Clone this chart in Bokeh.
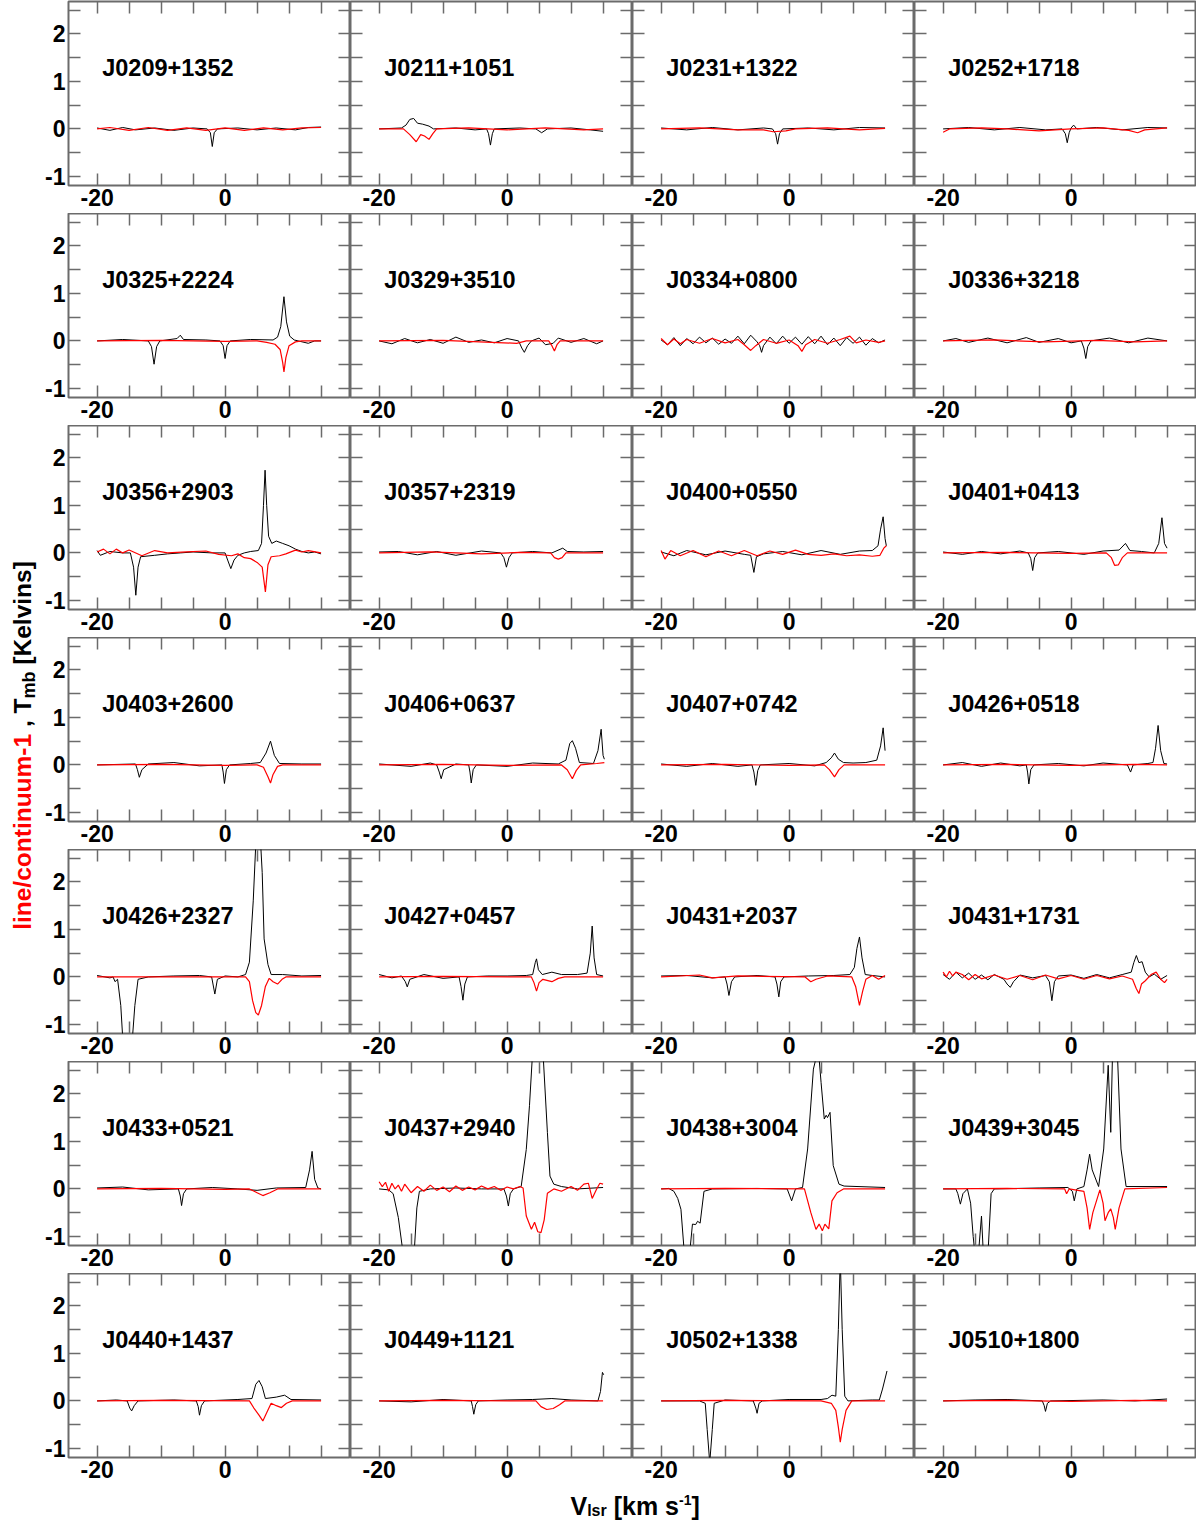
import math
from bokeh.plotting import figure
from bokeh.models import Range1d, LinearAxis, FixedTicker, Label
from bokeh.layouts import gridplot, row, column
from bokeh.embed import file_html
from bokeh.resources import INLINE

# ---------------- data (velocity km/s, value) ----------------
X_TICKS = [-20, -15, -10, -5, 0, 5, 10, 15]
X_TICK_LABELS = {-20: "-20", 0: "0"}
Y_TICKS = [-1, -0.5, 0, 0.5, 1, 1.5, 2, 2.5]
Y_TICK_LABELS = {-1: "-1", 0: "0", 1: "1", 2: "2"}

B_J0209_1352 = [(-20, 0.02), (-18, -0.03), (-16, 0.03), (-14, -0.02), (-11, 0.02), (-8, -0.03), (-5, 0.02), (-2.8, 0.0), (-2.3, -0.08), (-2.0, -0.37), (-1.7, -0.08), (-1.2, 0.0), (2, 0.02), (5, -0.02), (8, 0.02), (11, -0.02), (13, 0.03), (15, 0.04)]
R_J0209_1352 = [(-20, 0.0), (-18, 0.03), (-15, -0.03), (-12, 0.03), (-9, -0.03), (-6, 0.02), (-3, -0.03), (0, 0.02), (3, -0.03), (6, 0.02), (9, -0.02), (12, 0.02), (15, 0.03)]

B_J0211_1051 = [(-20, 0.0), (-16.5, 0.02), (-15.8, 0.08), (-15.2, 0.2), (-14.6, 0.22), (-14.0, 0.12), (-13.2, 0.1), (-12.2, 0.06), (-11.5, 0.0), (-8, 0.02), (-5, -0.02), (-3.2, 0.0), (-2.9, -0.1), (-2.6, -0.34), (-2.3, -0.1), (-2.0, 0.0), (2, 0.02), (4.5, 0.0), (5.4, -0.08), (6.3, 0.0), (10, 0.02), (13, -0.02), (15, -0.05)]
R_J0211_1051 = [(-20, 0.0), (-16.2, 0.0), (-15.2, -0.12), (-14.2, -0.27), (-13.5, -0.12), (-12.9, -0.15), (-12.2, -0.22), (-11.6, -0.1), (-11.0, 0.0), (-6, 0.02), (0, -0.02), (6, 0.02), (12, -0.02), (15, 0.0)]

B_J0231_1322 = [(-20, 0.02), (-16, -0.02), (-12, 0.03), (-8, -0.02), (-4, 0.02), (-2.6, 0.0), (-2.1, -0.1), (-1.8, -0.32), (-1.5, -0.1), (-1.0, 0.0), (3, 0.02), (7, -0.02), (11, 0.03), (15, 0.02)]
R_J0231_1322 = [(-20, 0.0), (-14, 0.02), (-8, -0.02), (-4, -0.02), (-2.5, -0.06), (-0.5, -0.04), (1, 0.0), (6, 0.02), (11, -0.02), (15, 0.01)]

B_J0252_1718 = [(-20, 0.0), (-16, 0.03), (-12, -0.02), (-8, 0.03), (-4, -0.02), (-1.4, 0.0), (-0.9, -0.1), (-0.6, -0.29), (-0.3, -0.08), (0.0, 0.02), (0.4, 0.08), (0.9, 0.0), (4, 0.03), (8, -0.02), (12, 0.03), (15, 0.02)]
R_J0252_1718 = [(-20, -0.07), (-19, 0.0), (-14, 0.02), (-10, 0.0), (-5, -0.04), (0, 0.0), (5, 0.02), (9, -0.03), (10.4, -0.08), (11.5, -0.02), (15, 0.02)]

B_J0325_2224 = [(-20, 0.0), (-16, 0.03), (-12, 0.0), (-11.5, -0.12), (-11.1, -0.49), (-10.7, -0.12), (-10.2, 0.0), (-7.5, 0.05), (-7.0, 0.12), (-6.5, 0.03), (-3, 0.02), (-0.8, 0.0), (-0.3, -0.1), (0.0, -0.37), (0.3, -0.1), (0.8, 0.0), (4, 0.03), (7.5, 0.02), (8.2, 0.08), (8.7, 0.3), (9.2, 0.93), (9.6, 0.4), (10.1, 0.1), (10.8, 0.02), (13, -0.05), (14, 0.0), (15, 0.0)]
R_J0325_2224 = [(-20, 0.0), (-10, 0.01), (0, -0.01), (5, 0.0), (6.5, -0.03), (7.8, -0.07), (8.6, -0.18), (9.0, -0.45), (9.2, -0.65), (9.5, -0.35), (10.0, -0.1), (11, -0.02), (12, 0.0), (15, 0.0)]

B_J0329_3510 = [(-20, 0.0), (-18, -0.06), (-16, 0.05), (-14, -0.04), (-12, 0.03), (-10, -0.05), (-8, 0.08), (-6, -0.03), (-4, 0.02), (-2, -0.04), (0, 0.05), (1.8, 0.0), (2.3, -0.15), (2.7, -0.24), (3.2, -0.1), (3.8, 0.0), (5, 0.06), (6, -0.08), (7.2, -0.05), (8, 0.06), (10, -0.03), (12, 0.05), (14, -0.06), (15, 0.0)]
R_J0329_3510 = [(-20, 0.0), (-10, 0.01), (1.5, -0.05), (3, 0.0), (6.5, 0.0), (7.0, -0.1), (7.4, -0.21), (7.8, -0.08), (8.3, 0.0), (15, 0.0)]

B_J0334_0800 = [(-20, 0.02), (-19, -0.08), (-18, 0.07), (-17, -0.1), (-16, 0.05), (-15, -0.06), (-14, 0.08), (-13, -0.04), (-12, 0.06), (-11, -0.07), (-10, 0.04), (-9, -0.05), (-8, 0.1), (-7, -0.06), (-6, 0.12), (-5, -0.02), (-4.6, -0.1), (-4.3, -0.24), (-4.0, -0.1), (-3, 0.08), (-2, -0.06), (-1, 0.1), (0, -0.05), (1, 0.08), (2, -0.07), (3, 0.09), (4, -0.06), (5, 0.1), (6, -0.08), (7, 0.06), (8, -0.1), (9, 0.07), (10, -0.05), (11, 0.08), (12, -0.09), (13, 0.05), (14, -0.04), (15, 0.02)]
R_J0334_0800 = [(-20, 0.05), (-19, -0.08), (-18, 0.04), (-17, -0.06), (-16, 0.03), (-14, -0.05), (-12, 0.05), (-10, -0.04), (-8, 0.03), (-7, -0.08), (-6.0, -0.2), (-5.2, -0.1), (-4, 0.03), (-2, -0.05), (0, 0.02), (1.4, -0.1), (2.0, -0.22), (2.6, -0.08), (4, 0.03), (6, -0.05), (8, 0.03), (9.5, 0.1), (10.5, -0.04), (12, 0.02), (14, -0.03), (15, 0.0)]

B_J0336_3218 = [(-20, 0.0), (-18, 0.05), (-16, -0.03), (-13, 0.06), (-10, -0.04), (-7, 0.07), (-5, -0.03), (-2, 0.05), (0, -0.04), (1.6, 0.0), (2.0, -0.15), (2.3, -0.37), (2.6, -0.12), (3.1, 0.0), (6, 0.06), (9, -0.04), (12, 0.06), (15, 0.0)]
R_J0336_3218 = [(-20, 0.0), (-12, 0.02), (-4, -0.02), (4, 0.01), (10, -0.02), (15, 0.0)]

B_J0356_2903 = [(-20, 0.05), (-19.5, -0.05), (-18, 0.03), (-16, 0.0), (-14.8, 0.0), (-14.3, -0.3), (-13.95, -0.89), (-13.6, -0.3), (-13.2, -0.08), (-11, -0.05), (-9, -0.02), (-7, 0.0), (-5, 0.02), (-2, 0.0), (0, 0.0), (0.4, -0.15), (0.9, -0.33), (1.4, -0.15), (2, -0.05), (3, 0.0), (4, 0.03), (5.2, 0.05), (5.7, 0.2), (6.0, 1.0), (6.25, 1.74), (6.5, 1.0), (6.8, 0.35), (7.3, 0.2), (8, 0.25), (9, 0.2), (10, 0.15), (11, 0.08), (12, 0.03), (13, 0.0), (14, 0.02), (15, -0.02)]
R_J0356_2903 = [(-20, 0.02), (-19, 0.08), (-18, -0.02), (-17, 0.08), (-16, 0.0), (-15, 0.06), (-13, -0.06), (-11, 0.05), (-9, 0.0), (-6, 0.02), (-3, 0.04), (-1, -0.03), (1, -0.06), (2, -0.02), (3, -0.1), (4, -0.12), (5, -0.2), (5.8, -0.3), (6.3, -0.82), (6.7, -0.25), (7.2, -0.08), (8.5, -0.06), (9.5, -0.02), (11, 0.06), (12, 0.02), (13, 0.05), (15, 0.0)]

B_J0357_2319 = [(-20, 0.02), (-17, 0.03), (-14, -0.04), (-11, 0.03), (-8, -0.05), (-4, 0.04), (-1, 0.0), (-0.5, -0.1), (-0.1, -0.3), (0.3, -0.1), (0.8, 0.0), (4, 0.03), (7, 0.0), (8.7, 0.1), (9.4, 0.03), (12, 0.02), (15, 0.03)]
R_J0357_2319 = [(-20, 0.0), (-12, 0.02), (-4, -0.02), (2, 0.01), (6.8, 0.0), (7.4, -0.1), (8.0, -0.13), (8.6, -0.1), (9.2, 0.0), (15, 0.0)]

B_J0400_0550 = [(-20, 0.02), (-18, -0.06), (-16, 0.05), (-13, -0.04), (-10, 0.04), (-7, -0.03), (-6, -0.05), (-5.5, -0.41), (-5.1, -0.08), (-4, -0.02), (-1, 0.03), (2, -0.04), (5, 0.05), (8, -0.03), (11, 0.04), (13, 0.05), (13.9, 0.15), (14.3, 0.5), (14.7, 0.76), (15.0, 0.3), (15.2, 0.15)]
R_J0400_0550 = [(-20, 0.05), (-19.4, -0.13), (-18.5, 0.05), (-17, -0.06), (-15, 0.05), (-13, -0.08), (-11, 0.04), (-9, -0.06), (-7, 0.05), (-5, -0.06), (-3, 0.04), (-1, -0.03), (1, 0.06), (3, -0.03), (5, -0.05), (7, -0.02), (9, -0.06), (11, -0.04), (13, -0.07), (14.2, -0.05), (14.8, 0.1), (15.2, 0.15)]

B_J0401_0413 = [(-20, 0.02), (-17, -0.03), (-14, 0.03), (-11, -0.02), (-8, 0.04), (-6.7, 0.0), (-6.3, -0.12), (-6.0, -0.37), (-5.7, -0.1), (-5.2, 0.0), (-2, 0.03), (2, -0.03), (5, 0.04), (7.5, 0.06), (8.5, 0.2), (9.2, 0.05), (11, 0.03), (13, 0.0), (13.7, 0.2), (14.2, 0.74), (14.6, 0.2), (15, 0.1)]
R_J0401_0413 = [(-20, 0.0), (-10, 0.01), (0, -0.01), (5.5, 0.0), (6.3, -0.1), (6.8, -0.26), (7.4, -0.25), (8.0, -0.1), (8.8, 0.0), (15, 0.0)]

B_J0403_2600 = [(-20, 0.0), (-14, 0.02), (-13.7, -0.1), (-13.4, -0.26), (-13.0, -0.1), (-12, 0.02), (-8, 0.05), (-4, -0.02), (-0.5, 0.0), (-0.3, -0.15), (-0.1, -0.39), (0.2, -0.1), (0.7, 0.0), (4, 0.03), (5.5, 0.05), (6.4, 0.25), (7.1, 0.5), (7.7, 0.2), (8.5, 0.03), (12, 0.02), (15, 0.02)]
R_J0403_2600 = [(-20, 0.0), (-10, 0.01), (0, -0.01), (5, 0.0), (6, -0.05), (6.7, -0.25), (7.1, -0.38), (7.5, -0.2), (8.2, -0.03), (9, 0.0), (15, 0.0)]

B_J0406_0637 = [(-20, 0.02), (-15, -0.03), (-12, 0.04), (-11, 0.0), (-10.6, -0.15), (-10.3, -0.29), (-9.9, -0.1), (-8, 0.02), (-6.0, 0.0), (-5.8, -0.15), (-5.6, -0.38), (-5.3, -0.1), (-4.8, 0.0), (0, -0.03), (4, 0.04), (8, 0.02), (9.2, 0.1), (9.8, 0.45), (10.2, 0.51), (10.7, 0.35), (11.3, 0.05), (13.5, 0.03), (14.2, 0.3), (14.7, 0.75), (15.0, 0.2), (15.2, 0.12)]
R_J0406_0637 = [(-20, 0.0), (-10, 0.01), (0, -0.01), (8.5, 0.0), (9.4, -0.1), (10.2, -0.29), (10.8, -0.12), (11.5, 0.0), (14, 0.03), (15.2, 0.05)]

B_J0407_0742 = [(-20, 0.02), (-16, -0.03), (-12, 0.03), (-8, -0.03), (-5.8, 0.0), (-5.5, -0.15), (-5.2, -0.43), (-4.9, -0.12), (-4.5, 0.0), (0, 0.03), (4, -0.02), (5.8, 0.05), (6.6, 0.15), (7.1, 0.25), (7.7, 0.12), (8.5, 0.05), (10, 0.04), (12, 0.05), (13.7, 0.1), (14.3, 0.4), (14.7, 0.78), (15.0, 0.3)]
R_J0407_0742 = [(-20, 0.0), (-10, 0.01), (0, -0.01), (5.5, 0.0), (6.3, -0.1), (7.1, -0.25), (7.8, -0.1), (8.6, 0.0), (15, 0.0)]

B_J0426_0518 = [(-20, 0.0), (-17, 0.05), (-14, -0.03), (-11, 0.04), (-8, -0.02), (-7.0, 0.0), (-6.8, -0.15), (-6.6, -0.4), (-6.3, -0.1), (-5.8, 0.0), (-2, 0.03), (2, -0.02), (5, 0.04), (8.8, 0.0), (9.3, -0.15), (9.7, 0.0), (12, 0.03), (12.8, 0.05), (13.2, 0.35), (13.6, 0.83), (14.0, 0.3), (14.5, 0.03), (15, 0.02)]
R_J0426_0518 = [(-20, 0.0), (-10, 0.01), (0, -0.01), (10, 0.01), (15, 0.0)]

B_J0426_2327 = [(-20, 0.03), (-18, -0.02), (-17.5, 0.0), (-17.2, -0.1), (-16.8, -0.05), (-16.3, -0.6), (-15.9, -1.5), (-15.2, -1.6), (-14.6, -1.5), (-14.1, -0.6), (-13.6, -0.05), (-12, 0.0), (-8, 0.02), (-4, 0.03), (-2.1, 0.0), (-1.6, -0.36), (-1.2, -0.05), (0, 0.02), (2, 0.0), (3.2, 0.05), (3.8, 0.31), (4.4, 1.6), (4.9, 3.1), (5.4, 3.2), (5.8, 2.2), (6.1, 0.8), (6.7, 0.26), (7.2, 0.05), (9, 0.05), (12, 0.02), (15, 0.03)]
R_J0426_2327 = [(-20, 0.0), (3.2, 0.0), (3.8, -0.1), (4.3, -0.5), (4.8, -0.75), (5.2, -0.8), (5.7, -0.6), (6.3, -0.2), (6.9, -0.03), (7.5, -0.1), (8.2, -0.15), (8.9, -0.05), (9.5, 0.0), (15, 0.0)]

B_J0427_0457 = [(-20, 0.05), (-18, -0.02), (-16.5, 0.02), (-15.9, -0.1), (-15.6, -0.21), (-15.2, -0.05), (-13, 0.05), (-10, -0.03), (-7.5, 0.0), (-7.2, -0.2), (-6.9, -0.49), (-6.6, -0.15), (-6.2, 0.0), (-3, 0.02), (0, 0.02), (3, 0.03), (4.0, 0.05), (4.4, 0.3), (4.6, 0.38), (4.9, 0.15), (5.5, 0.05), (7, 0.1), (8.5, 0.05), (11, 0.05), (12.5, 0.08), (13.0, 0.5), (13.3, 1.07), (13.6, 0.4), (14, 0.05), (15, 0.02)]
R_J0427_0457 = [(-20, 0.0), (-10, 0.01), (3.8, 0.0), (4.2, -0.12), (4.6, -0.3), (5.0, -0.12), (5.6, -0.05), (7.0, -0.1), (8, -0.03), (9, 0.0), (15, 0.0)]

B_J0431_2037 = [(-20, 0.02), (-16, 0.03), (-12, -0.02), (-10.0, 0.0), (-9.7, -0.15), (-9.4, -0.39), (-9.0, -0.1), (-8.5, 0.0), (-5, 0.03), (-2.2, 0.0), (-1.9, -0.15), (-1.6, -0.42), (-1.3, -0.1), (-0.8, 0.0), (3, 0.02), (7, 0.03), (9.5, 0.05), (10.2, 0.2), (10.6, 0.6), (11.0, 0.84), (11.4, 0.4), (11.9, 0.05), (13, 0.03), (15, 0.0)]
R_J0431_2037 = [(-20, 0.0), (-14, 0.04), (-12, -0.02), (-8, 0.02), (2.5, 0.0), (3.4, -0.1), (4.2, -0.05), (6, 0.02), (9.8, 0.0), (10.4, -0.2), (11.0, -0.6), (11.5, -0.3), (12.0, -0.05), (13, 0.03), (14, -0.05), (15, 0.03)]

B_J0431_1731 = [(-20, 0.05), (-19, -0.05), (-18, 0.1), (-17, -0.02), (-16, 0.08), (-15, -0.05), (-14, 0.04), (-13, -0.06), (-12, 0.05), (-10.5, -0.05), (-10.0, -0.15), (-9.5, -0.22), (-9.0, -0.1), (-8, 0.04), (-6, -0.02), (-4, 0.03), (-3.4, -0.1), (-3.0, -0.5), (-2.6, -0.1), (-2, 0.02), (0, 0.04), (2, -0.03), (4, 0.05), (6, -0.02), (8, 0.05), (9.4, 0.1), (9.8, 0.3), (10.2, 0.45), (10.6, 0.3), (11.1, 0.32), (11.6, 0.1), (12.2, 0.0), (13, 0.06), (14, -0.05), (15, 0.03)]
R_J0431_1731 = [(-20, 0.1), (-19.5, 0.0), (-19, 0.12), (-18.5, 0.02), (-18, 0.1), (-17, 0.05), (-16, -0.06), (-15, 0.05), (-14, -0.04), (-12, 0.04), (-10, -0.05), (-8, 0.03), (-6, -0.06), (-4, 0.04), (-2, -0.04), (0, 0.03), (2, -0.05), (4, 0.03), (6, -0.04), (8, 0.02), (9.6, -0.05), (10.2, -0.25), (10.6, -0.35), (11.0, -0.15), (11.6, -0.08), (12.5, 0.05), (13.3, 0.1), (14, -0.05), (14.6, -0.12), (15, -0.05)]

B_J0433_0521 = [(-20, 0.02), (-16, 0.04), (-12, -0.02), (-7.3, 0.0), (-7.0, -0.15), (-6.8, -0.35), (-6.5, -0.1), (-6, 0.0), (-2, 0.03), (2, 0.0), (5, -0.03), (8, 0.02), (12.6, 0.03), (13.2, 0.4), (13.6, 0.79), (14.0, 0.2), (14.5, 0.02), (15, 0.0)]
R_J0433_0521 = [(-20, 0.0), (-10, 0.01), (0, -0.01), (3.8, 0.0), (5.0, -0.08), (5.9, -0.14), (7.0, -0.08), (8.2, 0.0), (15, 0.0)]

B_J0437_2940 = [(-20, 0.0), (-18.5, -0.02), (-17.8, -0.1), (-17.0, -0.6), (-16.3, -1.3), (-15.4, -1.5), (-14.5, -1.3), (-14.1, -0.4), (-13.7, -0.05), (-12, 0.0), (-8, 0.02), (-4, 0.0), (-0.5, 0.0), (-0.1, -0.15), (0.2, -0.36), (0.5, -0.1), (1, 0.0), (2.2, 0.05), (3.0, 0.83), (3.5, 1.75), (4.0, 2.9), (4.8, 3.2), (5.6, 2.9), (6.3, 1.19), (6.7, 0.27), (7.3, 0.1), (8.5, 0.05), (11, 0.0), (15, 0.03)]
R_J0437_2940 = [(-20, 0.15), (-19.5, 0.05), (-19, 0.14), (-18.5, -0.05), (-18, 0.12), (-17.5, 0.0), (-17, 0.08), (-16.5, -0.05), (-16, 0.1), (-15, -0.08), (-14, 0.05), (-13, -0.05), (-12, 0.08), (-11, -0.03), (-10, 0.04), (-9, -0.06), (-8, 0.06), (-7, -0.03), (-6, 0.04), (-5, -0.02), (-4, 0.06), (-3, 0.0), (-2, 0.05), (-1, -0.03), (0, 0.04), (1, 0.0), (2, 0.05), (2.5, 0.02), (3.0, -0.57), (3.8, -0.85), (4.3, -0.7), (4.8, -0.9), (5.3, -0.92), (5.8, -0.65), (6.3, -0.09), (7.3, 0.0), (8.5, -0.05), (10, 0.05), (11, -0.03), (12, 0.1), (12.7, 0.12), (13.3, -0.2), (14, 0.0), (14.5, 0.12), (15, 0.1)]

B_J0438_3004 = [(-20, 0.0), (-18.8, 0.01), (-18.0, -0.05), (-17.4, -0.2), (-16.9, -0.43), (-16.4, -1.3), (-15.5, -1.3), (-15.1, -0.74), (-14.6, -0.75), (-14.3, -0.68), (-13.9, -0.72), (-13.3, -0.05), (-12, 0.0), (-5, 0.01), (-0.3, 0.0), (0.4, -0.25), (1.0, 0.0), (2.1, 0.03), (2.9, 0.84), (3.8, 2.52), (4.3, 2.8), (4.6, 2.9), (5.0, 2.24), (5.5, 1.47), (5.8, 1.55), (6.0, 1.5), (6.4, 1.61), (6.9, 0.49), (7.8, 0.1), (8.6, 0.06), (15, 0.03)]
R_J0438_3004 = [(-20, 0.0), (-10, 0.01), (2.4, 0.0), (3.4, -0.5), (4.2, -0.85), (4.7, -0.74), (5.2, -0.88), (5.6, -0.74), (6.2, -0.84), (6.7, -0.25), (7.5, -0.08), (8.5, 0.0), (15, 0.0)]

B_J0439_3045 = [(-20, 0.0), (-18, 0.0), (-17.7, -0.1), (-17.3, -0.32), (-16.9, -0.1), (-16.2, 0.0), (-15.7, -0.3), (-15.3, -1.0), (-15.0, -1.4), (-14.5, -1.4), (-14.0, -0.57), (-13.7, -1.4), (-13.0, -1.4), (-12.5, -0.1), (-12, 0.0), (-5, 0.02), (-0.5, 0.03), (0.2, -0.05), (0.5, -0.25), (0.9, 0.0), (2.0, 0.05), (2.5, 0.4), (2.9, 0.73), (3.3, 0.4), (4.3, 0.05), (5.1, 0.84), (5.8, 2.6), (6.2, 1.19), (6.5, 3.0), (7.2, 3.0), (7.8, 0.84), (8.6, 0.05), (15, 0.05)]
R_J0439_3045 = [(-20, 0.0), (-10, 0.01), (-1, 0.0), (-0.7, -0.1), (-0.3, 0.0), (2.0, -0.05), (2.5, -0.4), (2.9, -0.85), (3.4, -0.5), (4.5, -0.02), (5.0, -0.3), (5.3, -0.67), (5.8, -0.5), (6.2, -0.42), (6.6, -0.6), (6.9, -0.85), (7.5, -0.4), (8.4, 0.0), (15, 0.03)]

B_J0440_1437 = [(-20, 0.0), (-17, 0.02), (-15.3, 0.0), (-14.9, -0.15), (-14.6, -0.21), (-14.2, -0.1), (-13.6, 0.0), (-8, 0.02), (-4.5, 0.0), (-4.2, -0.12), (-4.0, -0.3), (-3.7, -0.1), (-3.2, 0.0), (2, 0.03), (4.2, 0.05), (4.8, 0.35), (5.3, 0.43), (5.8, 0.3), (6.3, 0.05), (8.0, 0.08), (9.3, 0.12), (10.3, 0.03), (15, 0.02)]
R_J0440_1437 = [(-20, 0.0), (-10, 0.01), (3.8, 0.0), (4.5, -0.15), (5.3, -0.3), (5.9, -0.42), (6.5, -0.25), (7.2, -0.05), (8.0, -0.1), (8.8, -0.14), (9.6, -0.05), (10.5, 0.0), (15, 0.0)]

B_J0449_1121 = [(-20, 0.0), (-15, -0.02), (-10, 0.03), (-5.6, 0.0), (-5.4, -0.12), (-5.2, -0.28), (-4.9, -0.08), (-4.5, 0.0), (0, 0.02), (4, 0.03), (7, 0.05), (10, 0.02), (14.2, 0.0), (14.6, 0.2), (14.9, 0.6), (15.1, 0.55)]
R_J0449_1121 = [(-20, 0.0), (-10, 0.01), (4.5, 0.0), (5.3, -0.12), (6.2, -0.18), (7.2, -0.16), (8.2, -0.08), (9, 0.0), (15, 0.0)]

B_J0502_1338 = [(-20, 0.0), (-14, 0.0), (-13.1, -0.05), (-12.8, -0.6), (-12.4, -1.3), (-12.0, -0.6), (-11.7, -0.05), (-10, 0.02), (-5.6, 0.0), (-5.2, -0.15), (-5.0, -0.26), (-4.7, -0.05), (-4.2, 0.0), (0, 0.03), (5, 0.03), (6.0, 0.05), (6.7, 0.12), (7.3, 0.1), (7.7, 1.5), (8.0, 3.0), (8.3, 1.5), (8.7, 0.1), (9.2, 0.0), (13, 0.02), (14.1, 0.02), (14.6, 0.25), (15.3, 0.63)]
R_J0502_1338 = [(-20, 0.0), (-10, 0.01), (5, 0.0), (6.6, -0.05), (7.3, -0.2), (7.7, -0.55), (8.0, -0.87), (8.3, -0.6), (8.9, -0.2), (9.8, 0.0), (15, 0.0)]

B_J0510_1800 = [(-20, 0.0), (-15, 0.02), (-10, 0.03), (-4.5, 0.0), (-4.2, -0.1), (-4.0, -0.22), (-3.7, -0.05), (-3.2, 0.0), (5, 0.02), (10, 0.0), (15, 0.04)]
R_J0510_1800 = [(-20, 0.0), (-10, 0.01), (0, -0.01), (10, 0.01), (15, 0.0)]

PANELS = [
    ("J0209+1352", B_J0209_1352, R_J0209_1352), ("J0211+1051", B_J0211_1051, R_J0211_1051),
    ("J0231+1322", B_J0231_1322, R_J0231_1322), ("J0252+1718", B_J0252_1718, R_J0252_1718),
    ("J0325+2224", B_J0325_2224, R_J0325_2224), ("J0329+3510", B_J0329_3510, R_J0329_3510),
    ("J0334+0800", B_J0334_0800, R_J0334_0800), ("J0336+3218", B_J0336_3218, R_J0336_3218),
    ("J0356+2903", B_J0356_2903, R_J0356_2903), ("J0357+2319", B_J0357_2319, R_J0357_2319),
    ("J0400+0550", B_J0400_0550, R_J0400_0550), ("J0401+0413", B_J0401_0413, R_J0401_0413),
    ("J0403+2600", B_J0403_2600, R_J0403_2600), ("J0406+0637", B_J0406_0637, R_J0406_0637),
    ("J0407+0742", B_J0407_0742, R_J0407_0742), ("J0426+0518", B_J0426_0518, R_J0426_0518),
    ("J0426+2327", B_J0426_2327, R_J0426_2327), ("J0427+0457", B_J0427_0457, R_J0427_0457),
    ("J0431+2037", B_J0431_2037, R_J0431_2037), ("J0431+1731", B_J0431_1731, R_J0431_1731),
    ("J0433+0521", B_J0433_0521, R_J0433_0521), ("J0437+2940", B_J0437_2940, R_J0437_2940),
    ("J0438+3004", B_J0438_3004, R_J0438_3004), ("J0439+3045", B_J0439_3045, R_J0439_3045),
    ("J0440+1437", B_J0440_1437, R_J0440_1437), ("J0449+1121", B_J0449_1121, R_J0449_1121),
    ("J0502+1338", B_J0502_1338, R_J0502_1338), ("J0510+1800", B_J0510_1800, R_J0510_1800),
]

# ---------------- layout / style ----------------
NCOLS, NROWS = 4, 7
FW, FH = 282, 184
BOT = 28
TOP0 = 1
LEFT0 = 30
YLAB_W = 38
X_RANGE = (-24.47, 19.6)
Y_RANGE = (-1.19, 2.68)
GRAY = "#6b6b6b"
FONT = "Liberation Sans"
GRID_H = TOP0 + NROWS * (FH + BOT)

def style_axis(ax, ticks, labels, show):
    ax.ticker = FixedTicker(ticks=ticks)
    ax.major_tick_in = 12
    ax.major_tick_out = 0
    ax.minor_tick_in = 0
    ax.minor_tick_out = 0
    ax.major_tick_line_color = GRAY
    ax.major_tick_line_width = 1.5
    ax.axis_line_color = None
    if show:
        ax.major_label_overrides = {t: labels.get(t, "") for t in ticks}
        ax.major_label_text_font = FONT
        ax.major_label_text_font_style = "bold"
        ax.major_label_text_font_size = "23px"
        ax.major_label_text_color = "black"
        ax.major_label_standoff = 3
    else:
        ax.major_label_overrides = {t: "" for t in ticks}
        ax.major_label_text_font_size = "0px"
        ax.major_label_standoff = 0

def make_panel(name, black, red, r, c):
    p = figure(frame_width=FW, frame_height=FH, x_range=Range1d(*X_RANGE), y_range=Range1d(*Y_RANGE),
               output_backend="svg", toolbar_location=None, title=None,
               min_border_left=(LEFT0 if c == 0 else 0), min_border_right=0,
               min_border_top=(TOP0 if r == 0 else 0), min_border_bottom=BOT)
    p.outline_line_color = GRAY
    p.outline_line_width = 2
    p.grid.visible = False
    style_axis(p.xaxis[0], X_TICKS, X_TICK_LABELS, True)
    style_axis(p.yaxis[0], Y_TICKS, Y_TICK_LABELS, c == 0)
    top = LinearAxis()
    style_axis(top, X_TICKS, X_TICK_LABELS, False)
    p.add_layout(top, "above")
    right = LinearAxis()
    style_axis(right, Y_TICKS, Y_TICK_LABELS, False)
    p.add_layout(right, "right")
    p.line([v for v, _ in black], [t for _, t in black], line_color="black", line_width=1)
    p.line([v for v, _ in red], [t for _, t in red], line_color="#ff0000", line_width=1.2)
    p.add_layout(Label(x=-19.2, y=1.28, text=name, text_font=FONT, text_font_style="bold",
                       text_font_size="23.5px", text_color="black", text_baseline="alphabetic"))
    return p

rows = []
for r in range(NROWS):
    rows.append([make_panel(*PANELS[r * NCOLS + c], r, c) for c in range(NCOLS)])
grid = gridplot(rows, toolbar_location=None)

# Arial/Helvetica bold advance widths (1/1000 em)
AW = {" ": 278, ",": 278, "-": 333, "/": 278, "1": 556, "[": 333, "]": 333, "K": 722, "T": 611,
      "V": 667, "b": 611, "c": 556, "e": 556, "i": 278, "k": 556, "l": 278, "m": 889, "n": 611,
      "o": 611, "r": 389, "s": 556, "t": 333, "u": 611, "v": 556}

def tw(s, size):
    return sum(AW[c] for c in s) / 1000.0 * size

# y label (rotated, reads bottom to top)
ylab = figure(width=YLAB_W, height=GRID_H, x_range=Range1d(0, YLAB_W), y_range=Range1d(0, GRID_H),
              x_axis_type=None, y_axis_type=None, output_backend="svg", toolbar_location=None,
              title=None, min_border=0, outline_line_color=None)
ylab.grid.visible = False
YL_PIECES = [("line/continuum-1", "#ff0000", 24.5, 0), (" , T", "black", 24.5, 0),
             ("mb", "black", 18, 6), (" [Kelvins]", "black", 24.5, 0)]
total = sum(tw(s, sz) for s, _, sz, _ in YL_PIECES)
ypos = (GRID_H - 745) - total / 2
for s, colr, sz, shift in YL_PIECES:
    stripped = s.lstrip()
    ypos += tw(s[:len(s) - len(stripped)], sz)
    ylab.add_layout(Label(x=22 + shift, y=ypos, text=stripped, angle=math.pi / 2, text_font=FONT,
                          text_font_style="bold", text_font_size=f"{sz}px", text_color=colr,
                          text_baseline="alphabetic", text_align="left"))
    ypos += tw(stripped, sz)

# x label
XL_W = YLAB_W + LEFT0 + NCOLS * FW
XL_H = 36
xlab = figure(width=XL_W, height=XL_H, x_range=Range1d(0, XL_W), y_range=Range1d(0, XL_H),
              x_axis_type=None, y_axis_type=None, output_backend="svg", toolbar_location=None,
              title=None, min_border=0, outline_line_color=None)
xlab.grid.visible = False
XL_PIECES = [("V", 25, 16), ("lsr", 16, 11), (" [km s", 25, 16), ("-1", 14, 22), ("]", 25, 16)]
xpos = 570
for s, sz, yb in XL_PIECES:
    stripped = s.lstrip()
    xpos += tw(s[:len(s) - len(stripped)], sz)
    xlab.add_layout(Label(x=xpos, y=yb, text=stripped, text_font=FONT, text_font_style="bold",
                          text_font_size=f"{sz}px", text_color="black",
                          text_baseline="alphabetic", text_align="left"))
    xpos += tw(stripped, sz)

layout = column(row(ylab, grid), xlab)
open("out.html", "w").write(file_html(layout, INLINE))
